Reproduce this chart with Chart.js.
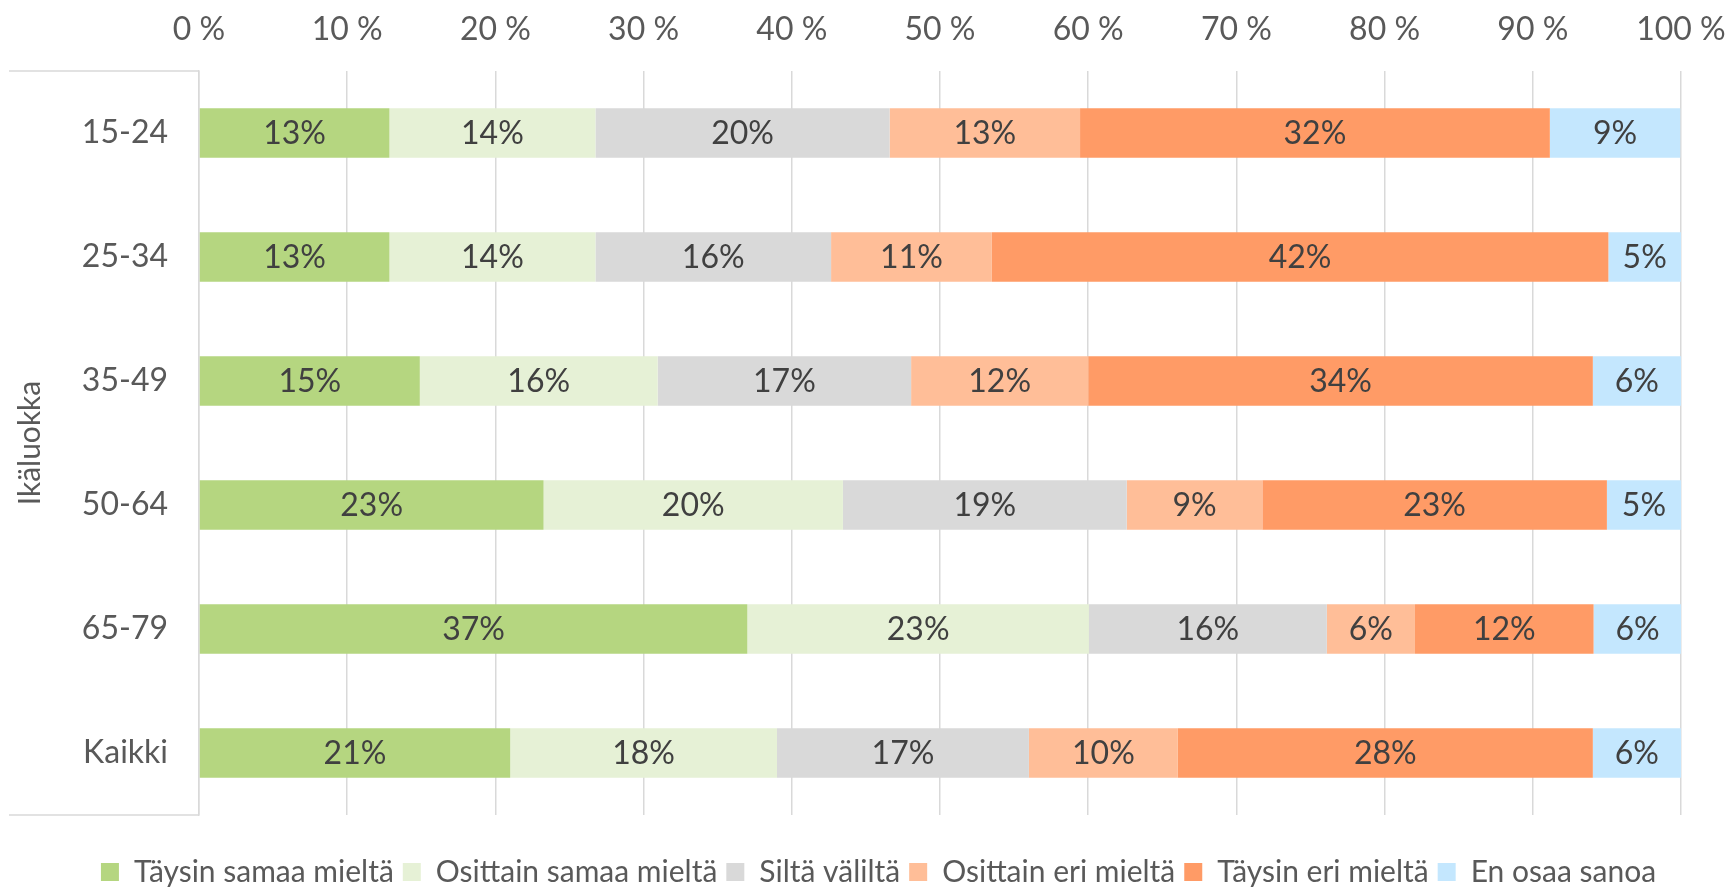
<!DOCTYPE html>
<html>
<head>
<meta charset="utf-8">
<script src="https://cdn.jsdelivr.net/npm/chart.js@4/dist/chart.umd.min.js"></script>
<style>
  html, body { margin: 0; padding: 0; background: #fff; }
  #wrap { width: 1725px; height: 888px; }
</style>
</head>
<body>
<div id="wrap"><canvas id="barChart" width="1725" height="888"></canvas></div>
<script>
var ageGroups = ["15-24", "25-34", "35-49", "50-64", "65-79", "Kaikki"];
var seriesNames = ["Täysin samaa mieltä", "Osittain samaa mieltä", "Siltä väliltä", "Osittain eri mieltä", "Täysin eri mieltä", "En osaa sanoa"];
var seriesColors = ["#b5d680", "#e6f1d6", "#d9d9d9", "#ffbe98", "#ff9b66", "#c4e7fe"];

var taysinSamaa   = [12.85, 12.85, 14.9, 23.25, 37.0, 21.0];
var osittainSamaa = [13.9, 13.9, 16.05, 20.2, 23.05, 18.0];
var siltaValilta  = [19.85, 15.9, 17.1, 19.15, 16.05, 17.0];
var osittainEri   = [12.85, 10.85, 11.95, 9.15, 5.95, 10.05];
var taysinEri     = [31.7, 41.6, 34.05, 23.25, 12.05, 28.0];
var enOsaa        = [8.8, 4.9, 5.95, 5.0, 5.95, 5.95];

var axisTicks = [0, 10, 20, 30, 40, 50, 60, 70, 80, 90, 100];

var fontName = "Lato, 'Liberation Sans', sans-serif";
var gridColor = "#d9d9d9";

var seriesValues = [taysinSamaa, osittainSamaa, siltaValilta, osittainEri, taysinEri, enOsaa];

function buildDatasets(){
    var sets = [];
    for (var i = 0; i < seriesNames.length; i++) {
        sets.push({
            label: seriesNames[i],
            data: seriesValues[i],
            backgroundColor: seriesColors[i],
            borderWidth: 0,
            barPercentage: 0.4,
            categoryPercentage: 1.0
        });
    }
    return sets;
}

// percent labels in the middle of each segment
var segmentLabels = {
    id: 'segmentLabels',
    afterDatasetsDraw: function(chart){
        var ctx = chart.ctx;
        ctx.save();
        ctx.font = "32px " + fontName;
        ctx.fillStyle = "#404040";
        ctx.textAlign = "center";
        ctx.textBaseline = "middle";
        chart.data.datasets.forEach(function(ds, i){
            var meta = chart.getDatasetMeta(i);
            meta.data.forEach(function(bar, j){
                var x = (bar.x + bar.base) / 2;
                ctx.fillText(Math.round(ds.data[j]) + "%", x, bar.y + 1);
            });
        });
        ctx.restore();
    }
};

// the short lines left of the plot, top and bottom
var labelFrame = {
    id: 'labelFrame',
    afterDraw: function(chart){
        var ctx = chart.ctx;
        var area = chart.chartArea;
        ctx.save();
        ctx.strokeStyle = gridColor;
        ctx.lineWidth = 1.5;
        ctx.beginPath();
        ctx.moveTo(9, area.top);
        ctx.lineTo(area.left, area.top);
        ctx.moveTo(9, area.bottom);
        ctx.lineTo(area.left, area.bottom);
        ctx.stroke();
        ctx.restore();
    }
};

// fixed legend height and a small shift to the right
var legendTweak = {
    id: 'legendTweak',
    afterInit: function(chart){
        var lg = chart.legend;
        if (!lg || lg._patched) return;
        var fit = lg.fit;
        var draw = lg.draw;
        lg.fit = function(){
            fit.call(this);
            this.height = 73;
        };
        lg.draw = function(){
            this.ctx.save();
            this.ctx.translate(38, 0);
            draw.call(this);
            this.ctx.restore();
        };
        lg._patched = true;
    }
};

var ctxB = document.getElementById("barChart").getContext('2d');
var myBarChart = new Chart(ctxB, {
    type: 'bar',
    data: {
        labels: ageGroups,
        datasets: buildDatasets()
    },
    plugins: [segmentLabels, labelFrame, legendTweak],
    options: {
        indexAxis: 'y',
        responsive: false,
        animation: false,
        layout: {
            padding: { left: 0, right: 44, top: 0, bottom: 0 }
        },
        scales: {
            x: {
                position: 'top',
                stacked: true,
                min: 0,
                max: 100,
                afterBuildTicks: function(scale){
                    scale.ticks = axisTicks.map(function(v){ return { value: v }; });
                },
                afterFit: function(scale){
                    scale.height = 71;
                    scale.paddingLeft = 0;
                    scale.paddingRight = 0;
                },
                ticks: {
                    padding: 22,
                    color: "#595959",
                    font: { family: fontName, size: 32 },
                    callback: function(v){ return v + " %"; }
                },
                grid: { color: gridColor, lineWidth: 1.5, drawTicks: false },
                border: { display: false }
            },
            y: {
                stacked: true,
                afterFit: function(scale){ scale.width = 199; },
                ticks: {
                    padding: 31,
                    color: "#595959",
                    font: { family: fontName, size: 32 }
                },
                grid: { display: false, drawTicks: false },
                border: { display: true, color: gridColor, width: 1.5 },
                title: {
                    display: true,
                    text: "Ikäluokka",
                    color: "#595959",
                    font: { family: fontName, size: 30 },
                    padding: { top: 12, bottom: 0 }
                }
            }
        },
        plugins: {
            legend: {
                position: 'bottom',
                title: {
                    display: true,
                    text: "",
                    font: { size: 10 },
                    padding: { top: 21, bottom: 0 }
                },
                labels: {
                    boxWidth: 18,
                    boxHeight: 18,
                    padding: 9,
                    color: "#595959",
                    font: { family: fontName, size: 30 }
                }
            },
            tooltip: { enabled: false }
        }
    }
});
</script>
</body>
</html>
